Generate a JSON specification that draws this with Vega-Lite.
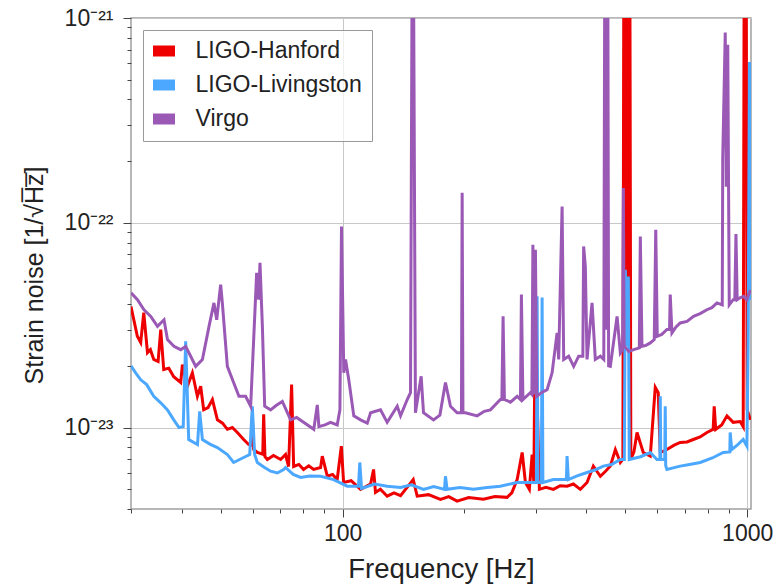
{
"$schema": "https://vega.github.io/schema/vega-lite/v6.json",
"width": 620, "height": 491,
"autosize": {"type": "none"},
"padding": {"left": 131, "top": 18, "right": 22, "bottom": 76},
"background": "white",
"config": {"font": "Liberation Sans", "view": {"stroke": "#a0a0a0", "strokeWidth": 1.5}},
"data": {"values": [
{"d":"LIGO-Hanford","f":30,"h":3.9e-23},{"d":"LIGO-Hanford","f":31.1,"h":2.79e-23},{"d":"LIGO-Hanford","f":31.7,"h":2.6e-23},{"d":"LIGO-Hanford","f":32.26,"h":3.64e-23},{"d":"LIGO-Hanford","f":32.95,"h":2.32e-23},{"d":"LIGO-Hanford","f":33.5,"h":2.4e-23},{"d":"LIGO-Hanford","f":34.15,"h":2.15e-23},{"d":"LIGO-Hanford","f":35.0,"h":2.1e-23},{"d":"LIGO-Hanford","f":35.53,"h":3.01e-23},{"d":"LIGO-Hanford","f":36.14,"h":1.92e-23},{"d":"LIGO-Hanford","f":37.2,"h":1.95e-23},{"d":"LIGO-Hanford","f":38.26,"h":1.77e-23},{"d":"LIGO-Hanford","f":39.81,"h":1.66e-23},{"d":"LIGO-Hanford","f":40.19,"h":2.03e-23},{"d":"LIGO-Hanford","f":41.35,"h":1.59e-23},{"d":"LIGO-Hanford","f":42.54,"h":1.85e-23},{"d":"LIGO-Hanford","f":43.77,"h":1.42e-23},{"d":"LIGO-Hanford","f":44.6,"h":1.59e-23},{"d":"LIGO-Hanford","f":45.37,"h":1.22e-23},{"d":"LIGO-Hanford","f":46.5,"h":1.25e-23},{"d":"LIGO-Hanford","f":47.68,"h":1.37e-23},{"d":"LIGO-Hanford","f":49.05,"h":1.09e-23},{"d":"LIGO-Hanford","f":50.5,"h":1.05e-23},{"d":"LIGO-Hanford","f":51.91,"h":9.8e-24},{"d":"LIGO-Hanford","f":53.4,"h":1.0e-23},{"d":"LIGO-Hanford","f":54.95,"h":9.46e-24},{"d":"LIGO-Hanford","f":56.96,"h":8.74e-24},{"d":"LIGO-Hanford","f":58.6,"h":8.26e-24},{"d":"LIGO-Hanford","f":59.4,"h":8.2e-24},{"d":"LIGO-Hanford","f":59.84,"h":1.14e-23},{"d":"LIGO-Hanford","f":60.3,"h":7.81e-24},{"d":"LIGO-Hanford","f":61.57,"h":7.55e-24},{"d":"LIGO-Hanford","f":63.5,"h":7.4e-24},{"d":"LIGO-Hanford","f":63.83,"h":1.16e-23},{"d":"LIGO-Hanford","f":64.3,"h":7.2e-24},{"d":"LIGO-Hanford","f":65.17,"h":6.98e-24},{"d":"LIGO-Hanford","f":67.5,"h":7.3e-24},{"d":"LIGO-Hanford","f":70.3,"h":6.98e-24},{"d":"LIGO-Hanford","f":72.3,"h":7.38e-24},{"d":"LIGO-Hanford","f":73.55,"h":6.45e-24},{"d":"LIGO-Hanford","f":74.83,"h":1.62e-23},{"d":"LIGO-Hanford","f":75.7,"h":6.45e-24},{"d":"LIGO-Hanford","f":78,"h":6.6e-24},{"d":"LIGO-Hanford","f":80.1,"h":6.24e-24},{"d":"LIGO-Hanford","f":82.5,"h":6.5e-24},{"d":"LIGO-Hanford","f":84.8,"h":6.24e-24},{"d":"LIGO-Hanford","f":88.25,"h":6.38e-24},{"d":"LIGO-Hanford","f":89.1,"h":7.25e-24},{"d":"LIGO-Hanford","f":91.7,"h":5.78e-24},{"d":"LIGO-Hanford","f":94.5,"h":5.9e-24},{"d":"LIGO-Hanford","f":97.0,"h":5.57e-24},{"d":"LIGO-Hanford","f":99.3,"h":8.11e-24},{"d":"LIGO-Hanford","f":100.6,"h":5.39e-24},{"d":"LIGO-Hanford","f":105,"h":5.5e-24},{"d":"LIGO-Hanford","f":110.8,"h":4.99e-24},{"d":"LIGO-Hanford","f":117.3,"h":5.3e-24},{"d":"LIGO-Hanford","f":119.3,"h":6.24e-24},{"d":"LIGO-Hanford","f":120.6,"h":4.82e-24},{"d":"LIGO-Hanford","f":124,"h":5.0e-24},{"d":"LIGO-Hanford","f":128.9,"h":4.62e-24},{"d":"LIGO-Hanford","f":134,"h":4.8e-24},{"d":"LIGO-Hanford","f":139.1,"h":4.65e-24},{"d":"LIGO-Hanford","f":149.5,"h":5.57e-24},{"d":"LIGO-Hanford","f":152.9,"h":4.62e-24},{"d":"LIGO-Hanford","f":163,"h":4.7e-24},{"d":"LIGO-Hanford","f":174.6,"h":4.46e-24},{"d":"LIGO-Hanford","f":183,"h":4.6e-24},{"d":"LIGO-Hanford","f":191.9,"h":4.37e-24},{"d":"LIGO-Hanford","f":205,"h":4.55e-24},{"d":"LIGO-Hanford","f":222.9,"h":4.46e-24},{"d":"LIGO-Hanford","f":238,"h":4.6e-24},{"d":"LIGO-Hanford","f":255.0,"h":4.56e-24},{"d":"LIGO-Hanford","f":262,"h":4.8e-24},{"d":"LIGO-Hanford","f":270.1,"h":5.57e-24},{"d":"LIGO-Hanford","f":277.9,"h":7.55e-24},{"d":"LIGO-Hanford","f":283.1,"h":5.39e-24},{"d":"LIGO-Hanford","f":289.5,"h":4.99e-24},{"d":"LIGO-Hanford","f":294.1,"h":7.38e-24},{"d":"LIGO-Hanford","f":297,"h":5.39e-24},{"d":"LIGO-Hanford","f":299.7,"h":4.54e-23},{"d":"LIGO-Hanford","f":302.6,"h":1.37e-23},{"d":"LIGO-Hanford","f":306.5,"h":4.99e-24},{"d":"LIGO-Hanford","f":318,"h":5.1e-24},{"d":"LIGO-Hanford","f":332.0,"h":4.99e-24},{"d":"LIGO-Hanford","f":345,"h":5.2e-24},{"d":"LIGO-Hanford","f":358.8,"h":5.17e-24},{"d":"LIGO-Hanford","f":372,"h":5.3e-24},{"d":"LIGO-Hanford","f":387.0,"h":4.99e-24},{"d":"LIGO-Hanford","f":402.0,"h":5.39e-24},{"d":"LIGO-Hanford","f":416.7,"h":6.48e-24},{"d":"LIGO-Hanford","f":433.6,"h":5.78e-24},{"d":"LIGO-Hanford","f":446,"h":6.1e-24},{"d":"LIGO-Hanford","f":459.0,"h":6.48e-24},{"d":"LIGO-Hanford","f":472.3,"h":7.81e-24},{"d":"LIGO-Hanford","f":485.9,"h":6.75e-24},{"d":"LIGO-Hanford","f":493,"h":7.0e-24},{"d":"LIGO-Hanford","f":495.6,"h":2e-21},{"d":"LIGO-Hanford","f":498,"h":3e-23},{"d":"LIGO-Hanford","f":500.5,"h":2e-21},{"d":"LIGO-Hanford","f":503,"h":3e-23},{"d":"LIGO-Hanford","f":505.5,"h":2e-21},{"d":"LIGO-Hanford","f":508,"h":3e-23},{"d":"LIGO-Hanford","f":510.5,"h":2e-21},{"d":"LIGO-Hanford","f":512.9,"h":2e-21},{"d":"LIGO-Hanford","f":515.8,"h":7.0e-24},{"d":"LIGO-Hanford","f":525,"h":7.6e-24},{"d":"LIGO-Hanford","f":534.3,"h":9.46e-24},{"d":"LIGO-Hanford","f":553.6,"h":7.55e-24},{"d":"LIGO-Hanford","f":576.1,"h":7.25e-24},{"d":"LIGO-Hanford","f":592.7,"h":1.57e-23},{"d":"LIGO-Hanford","f":602.8,"h":1.48e-23},{"d":"LIGO-Hanford","f":609.8,"h":7.55e-24},{"d":"LIGO-Hanford","f":633.4,"h":7.81e-24},{"d":"LIGO-Hanford","f":660,"h":8.2e-24},{"d":"LIGO-Hanford","f":683.2,"h":8.45e-24},{"d":"LIGO-Hanford","f":710,"h":8.5e-24},{"d":"LIGO-Hanford","f":735.8,"h":8.74e-24},{"d":"LIGO-Hanford","f":765,"h":9.0e-24},{"d":"LIGO-Hanford","f":795.3,"h":9.46e-24},{"d":"LIGO-Hanford","f":824,"h":9.8e-24},{"d":"LIGO-Hanford","f":828.9,"h":1.27e-23},{"d":"LIGO-Hanford","f":836,"h":9.8e-24},{"d":"LIGO-Hanford","f":865,"h":1.03e-23},{"d":"LIGO-Hanford","f":891.3,"h":1.14e-23},{"d":"LIGO-Hanford","f":923.5,"h":1.06e-23},{"d":"LIGO-Hanford","f":961.1,"h":1.07e-23},{"d":"LIGO-Hanford","f":977.7,"h":1.01e-23},{"d":"LIGO-Hanford","f":983.1,"h":2e-21},{"d":"LIGO-Hanford","f":994.3,"h":2e-21},{"d":"LIGO-Hanford","f":1000,"h":1.22e-23},{"d":"LIGO-Hanford","f":1018,"h":1.09e-23},
{"d":"LIGO-Livingston","f":30,"h":2.0e-23},{"d":"LIGO-Livingston","f":30.8,"h":1.85e-23},{"d":"LIGO-Livingston","f":31.71,"h":1.71e-23},{"d":"LIGO-Livingston","f":32.8,"h":1.62e-23},{"d":"LIGO-Livingston","f":34.15,"h":1.42e-23},{"d":"LIGO-Livingston","f":35.53,"h":1.32e-23},{"d":"LIGO-Livingston","f":36.92,"h":1.22e-23},{"d":"LIGO-Livingston","f":38.26,"h":1.09e-23},{"d":"LIGO-Livingston","f":39.43,"h":1.0e-23},{"d":"LIGO-Livingston","f":40.38,"h":1.01e-23},{"d":"LIGO-Livingston","f":40.95,"h":2.64e-23},{"d":"LIGO-Livingston","f":41.66,"h":8.74e-24},{"d":"LIGO-Livingston","f":43.8,"h":8.26e-24},{"d":"LIGO-Livingston","f":44.35,"h":1.2e-23},{"d":"LIGO-Livingston","f":45.04,"h":8.74e-24},{"d":"LIGO-Livingston","f":47,"h":8.3e-24},{"d":"LIGO-Livingston","f":49.05,"h":7.98e-24},{"d":"LIGO-Livingston","f":51.91,"h":7.38e-24},{"d":"LIGO-Livingston","f":53.81,"h":6.75e-24},{"d":"LIGO-Livingston","f":56.96,"h":7.14e-24},{"d":"LIGO-Livingston","f":58.95,"h":7.38e-24},{"d":"LIGO-Livingston","f":59.84,"h":1.27e-23},{"d":"LIGO-Livingston","f":60.63,"h":7.38e-24},{"d":"LIGO-Livingston","f":61.57,"h":6.75e-24},{"d":"LIGO-Livingston","f":64,"h":6.4e-24},{"d":"LIGO-Livingston","f":66.4,"h":6.12e-24},{"d":"LIGO-Livingston","f":69,"h":6.0e-24},{"d":"LIGO-Livingston","f":71.5,"h":6.24e-24},{"d":"LIGO-Livingston","f":72.3,"h":6.38e-24},{"d":"LIGO-Livingston","f":75.5,"h":5.9e-24},{"d":"LIGO-Livingston","f":78.77,"h":5.7e-24},{"d":"LIGO-Livingston","f":83,"h":5.8e-24},{"d":"LIGO-Livingston","f":88.25,"h":5.78e-24},{"d":"LIGO-Livingston","f":95.0,"h":5.57e-24},{"d":"LIGO-Livingston","f":102.7,"h":5.17e-24},{"d":"LIGO-Livingston","f":109.5,"h":5.17e-24},{"d":"LIGO-Livingston","f":110.3,"h":6.75e-24},{"d":"LIGO-Livingston","f":111.4,"h":5.04e-24},{"d":"LIGO-Livingston","f":120,"h":5.3e-24},{"d":"LIGO-Livingston","f":128.9,"h":5.17e-24},{"d":"LIGO-Livingston","f":139.1,"h":5.1e-24},{"d":"LIGO-Livingston","f":148,"h":5.25e-24},{"d":"LIGO-Livingston","f":158.5,"h":4.99e-24},{"d":"LIGO-Livingston","f":168,"h":5.15e-24},{"d":"LIGO-Livingston","f":178.6,"h":4.99e-24},{"d":"LIGO-Livingston","f":179.6,"h":5.78e-24},{"d":"LIGO-Livingston","f":181.3,"h":4.99e-24},{"d":"LIGO-Livingston","f":195,"h":5.1e-24},{"d":"LIGO-Livingston","f":210.6,"h":4.99e-24},{"d":"LIGO-Livingston","f":228,"h":5.1e-24},{"d":"LIGO-Livingston","f":245.5,"h":5.17e-24},{"d":"LIGO-Livingston","f":270.1,"h":5.39e-24},{"d":"LIGO-Livingston","f":291.2,"h":5.39e-24},{"d":"LIGO-Livingston","f":301.3,"h":5.39e-24},{"d":"LIGO-Livingston","f":302.6,"h":4.37e-23},{"d":"LIGO-Livingston","f":303.9,"h":5.39e-24},{"d":"LIGO-Livingston","f":310.0,"h":5.39e-24},{"d":"LIGO-Livingston","f":311.3,"h":4.31e-23},{"d":"LIGO-Livingston","f":312.7,"h":5.39e-24},{"d":"LIGO-Livingston","f":332.0,"h":5.57e-24},{"d":"LIGO-Livingston","f":357.4,"h":5.57e-24},{"d":"LIGO-Livingston","f":358.8,"h":7.25e-24},{"d":"LIGO-Livingston","f":361.5,"h":5.57e-24},{"d":"LIGO-Livingston","f":380,"h":5.8e-24},{"d":"LIGO-Livingston","f":402.0,"h":6.03e-24},{"d":"LIGO-Livingston","f":420,"h":6.2e-24},{"d":"LIGO-Livingston","f":441.0,"h":6.48e-24},{"d":"LIGO-Livingston","f":462,"h":6.6e-24},{"d":"LIGO-Livingston","f":485.9,"h":6.98e-24},{"d":"LIGO-Livingston","f":497.0,"h":6.98e-24},{"d":"LIGO-Livingston","f":499.9,"h":5.9e-23},{"d":"LIGO-Livingston","f":504,"h":2.5e-23},{"d":"LIGO-Livingston","f":508.5,"h":5.47e-23},{"d":"LIGO-Livingston","f":511.2,"h":6.98e-24},{"d":"LIGO-Livingston","f":545,"h":7.2e-24},{"d":"LIGO-Livingston","f":576.1,"h":7.55e-24},{"d":"LIGO-Livingston","f":598.4,"h":6.98e-24},{"d":"LIGO-Livingston","f":608.5,"h":6.98e-24},{"d":"LIGO-Livingston","f":609.8,"h":1.42e-23},{"d":"LIGO-Livingston","f":611.5,"h":6.98e-24},{"d":"LIGO-Livingston","f":625.5,"h":6.98e-24},{"d":"LIGO-Livingston","f":627.3,"h":1.27e-23},{"d":"LIGO-Livingston","f":629,"h":6.5e-24},{"d":"LIGO-Livingston","f":633.4,"h":6.24e-24},{"d":"LIGO-Livingston","f":683.2,"h":6.48e-24},{"d":"LIGO-Livingston","f":720,"h":6.6e-24},{"d":"LIGO-Livingston","f":765.6,"h":6.75e-24},{"d":"LIGO-Livingston","f":820,"h":7.1e-24},{"d":"LIGO-Livingston","f":872.6,"h":7.55e-24},{"d":"LIGO-Livingston","f":906,"h":7.6e-24},{"d":"LIGO-Livingston","f":907.8,"h":9.46e-24},{"d":"LIGO-Livingston","f":915.7,"h":7.81e-24},{"d":"LIGO-Livingston","f":945,"h":8.2e-24},{"d":"LIGO-Livingston","f":977.7,"h":8.74e-24},{"d":"LIGO-Livingston","f":998.4,"h":8.11e-24},{"d":"LIGO-Livingston","f":1005.7,"h":2.69e-23},{"d":"LIGO-Livingston","f":1013.2,"h":6.1e-22},{"d":"LIGO-Livingston","f":1020,"h":4.2e-23},
{"d":"Virgo","f":30,"h":4.55e-23},{"d":"Virgo","f":31.12,"h":4.21e-23},{"d":"Virgo","f":32.3,"h":3.76e-23},{"d":"Virgo","f":33.57,"h":3.49e-23},{"d":"Virgo","f":34.88,"h":3.12e-23},{"d":"Virgo","f":36.2,"h":3.36e-23},{"d":"Virgo","f":36.92,"h":2.69e-23},{"d":"Virgo","f":38.3,"h":2.49e-23},{"d":"Virgo","f":39.81,"h":2.4e-23},{"d":"Virgo","f":40.95,"h":2.49e-23},{"d":"Virgo","f":42.13,"h":2.23e-23},{"d":"Virgo","f":43.35,"h":1.99e-23},{"d":"Virgo","f":45.04,"h":2.15e-23},{"d":"Virgo","f":46.77,"h":3.12e-23},{"d":"Virgo","f":48.1,"h":4.06e-23},{"d":"Virgo","f":48.86,"h":3.36e-23},{"d":"Virgo","f":49.97,"h":4.99e-23},{"d":"Virgo","f":50.45,"h":4.06e-23},{"d":"Virgo","f":51.91,"h":1.99e-23},{"d":"Virgo","f":53.85,"h":1.65e-23},{"d":"Virgo","f":55.45,"h":1.42e-23},{"d":"Virgo","f":57.6,"h":1.42e-23},{"d":"Virgo","f":59.27,"h":1.27e-23},{"d":"Virgo","f":60.4,"h":2.9e-23},{"d":"Virgo","f":61.33,"h":5.69e-23},{"d":"Virgo","f":62.03,"h":4.21e-23},{"d":"Virgo","f":62.5,"h":6.38e-23},{"d":"Virgo","f":63.36,"h":3.12e-23},{"d":"Virgo","f":64.2,"h":1.27e-23},{"d":"Virgo","f":66.4,"h":1.22e-23},{"d":"Virgo","f":68.5,"h":1.28e-23},{"d":"Virgo","f":70.98,"h":1.34e-23},{"d":"Virgo","f":74.4,"h":1.09e-23},{"d":"Virgo","f":77,"h":1.12e-23},{"d":"Virgo","f":80.1,"h":1.06e-23},{"d":"Virgo","f":84.9,"h":9.8e-24},{"d":"Virgo","f":86.6,"h":1.29e-23},{"d":"Virgo","f":87.4,"h":1.01e-23},{"d":"Virgo","f":90.5,"h":1.03e-23},{"d":"Virgo","f":93.4,"h":1.06e-23},{"d":"Virgo","f":97.0,"h":1.03e-23},{"d":"Virgo","f":98.5,"h":1.22e-23},{"d":"Virgo","f":99.4,"h":9.59e-23},{"d":"Virgo","f":100.7,"h":1.85e-23},{"d":"Virgo","f":101.7,"h":2.15e-23},{"d":"Virgo","f":103.6,"h":1.71e-23},{"d":"Virgo","f":106.6,"h":1.14e-23},{"d":"Virgo","f":110.8,"h":1.09e-23},{"d":"Virgo","f":115.1,"h":1.05e-23},{"d":"Virgo","f":117.3,"h":1.18e-23},{"d":"Virgo","f":124.1,"h":1.22e-23},{"d":"Virgo","f":128.9,"h":1.06e-23},{"d":"Virgo","f":136.5,"h":1.27e-23},{"d":"Virgo","f":139.1,"h":1.14e-23},{"d":"Virgo","f":144.5,"h":1.37e-23},{"d":"Virgo","f":147.2,"h":1.48e-23},{"d":"Virgo","f":148.6,"h":2e-21},{"d":"Virgo","f":149.7,"h":2e-21},{"d":"Virgo","f":151.4,"h":1.18e-23},{"d":"Virgo","f":156.4,"h":1.78e-23},{"d":"Virgo","f":158.5,"h":1.18e-23},{"d":"Virgo","f":167.8,"h":1.09e-23},{"d":"Virgo","f":174,"h":1.15e-23},{"d":"Virgo","f":179.6,"h":1.66e-23},{"d":"Virgo","f":184.8,"h":1.27e-23},{"d":"Virgo","f":191.9,"h":1.18e-23},{"d":"Virgo","f":196.7,"h":1.18e-23},{"d":"Virgo","f":197.5,"h":1.4e-22},{"d":"Virgo","f":198.4,"h":1.18e-23},{"d":"Virgo","f":201.2,"h":1.18e-23},{"d":"Virgo","f":215.1,"h":1.14e-23},{"d":"Virgo","f":224,"h":1.2e-23},{"d":"Virgo","f":232.0,"h":1.22e-23},{"d":"Virgo","f":245.5,"h":1.37e-23},{"d":"Virgo","f":247.6,"h":1.37e-23},{"d":"Virgo","f":249.3,"h":3.49e-23},{"d":"Virgo","f":251.2,"h":1.37e-23},{"d":"Virgo","f":260,"h":1.33e-23},{"d":"Virgo","f":270.1,"h":1.42e-23},{"d":"Virgo","f":275.2,"h":1.37e-23},{"d":"Virgo","f":276.7,"h":4.46e-23},{"d":"Virgo","f":279.1,"h":1.37e-23},{"d":"Virgo","f":291.2,"h":1.48e-23},{"d":"Virgo","f":293.7,"h":1.45e-23},{"d":"Virgo","f":295.4,"h":7.8e-23},{"d":"Virgo","f":297.4,"h":1.45e-23},{"d":"Virgo","f":299.7,"h":7.38e-23},{"d":"Virgo","f":301.9,"h":1.42e-23},{"d":"Virgo","f":310,"h":1.48e-23},{"d":"Virgo","f":320.3,"h":1.53e-23},{"d":"Virgo","f":329.5,"h":1.85e-23},{"d":"Virgo","f":339.0,"h":2.9e-23},{"d":"Virgo","f":342.1,"h":2.15e-23},{"d":"Virgo","f":348.8,"h":1.2e-22},{"d":"Virgo","f":352.0,"h":2.15e-23},{"d":"Virgo","f":362.1,"h":2.23e-23},{"d":"Virgo","f":372.6,"h":1.99e-23},{"d":"Virgo","f":383.3,"h":2.23e-23},{"d":"Virgo","f":392.5,"h":2.23e-23},{"d":"Virgo","f":394.3,"h":7.66e-23},{"d":"Virgo","f":398.1,"h":6.12e-23},{"d":"Virgo","f":402.0,"h":2.15e-23},{"d":"Virgo","f":413.6,"h":4.06e-23},{"d":"Virgo","f":421.4,"h":2.15e-23},{"d":"Virgo","f":433.6,"h":2.23e-23},{"d":"Virgo","f":442.2,"h":2.15e-23},{"d":"Virgo","f":444.7,"h":2e-21},{"d":"Virgo","f":446.5,"h":3e-23},{"d":"Virgo","f":448.5,"h":2e-21},{"d":"Virgo","f":450.5,"h":3e-23},{"d":"Virgo","f":452.4,"h":2e-21},{"d":"Virgo","f":454.5,"h":2.0e-23},{"d":"Virgo","f":459.0,"h":1.99e-23},{"d":"Virgo","f":476.9,"h":3.49e-23},{"d":"Virgo","f":485.9,"h":2.31e-23},{"d":"Virgo","f":492.1,"h":2.4e-23},{"d":"Virgo","f":494.3,"h":1.48e-22},{"d":"Virgo","f":496.5,"h":2.5e-23},{"d":"Virgo","f":510,"h":2.35e-23},{"d":"Virgo","f":524.1,"h":2.4e-23},{"d":"Virgo","f":541.3,"h":2.45e-23},{"d":"Virgo","f":544.4,"h":8.57e-23},{"d":"Virgo","f":549.5,"h":2.49e-23},{"d":"Virgo","f":562,"h":2.52e-23},{"d":"Virgo","f":576.1,"h":2.59e-23},{"d":"Virgo","f":589.3,"h":2.69e-23},{"d":"Virgo","f":594.4,"h":9.25e-23},{"d":"Virgo","f":599.5,"h":2.79e-23},{"d":"Virgo","f":615,"h":2.85e-23},{"d":"Virgo","f":633.4,"h":3.01e-23},{"d":"Virgo","f":642.9,"h":3.01e-23},{"d":"Virgo","f":645.4,"h":4.46e-23},{"d":"Virgo","f":651.7,"h":2.9e-23},{"d":"Virgo","f":667,"h":3.1e-23},{"d":"Virgo","f":683.2,"h":3.24e-23},{"d":"Virgo","f":710,"h":3.3e-23},{"d":"Virgo","f":737.0,"h":3.49e-23},{"d":"Virgo","f":765,"h":3.6e-23},{"d":"Virgo","f":795.3,"h":3.76e-23},{"d":"Virgo","f":818,"h":3.85e-23},{"d":"Virgo","f":842.0,"h":4.06e-23},{"d":"Virgo","f":867.8,"h":3.97e-23},{"d":"Virgo","f":870.2,"h":2.08e-22},{"d":"Virgo","f":882.7,"h":8.5e-22},{"d":"Virgo","f":888,"h":1.5e-22},{"d":"Virgo","f":895.3,"h":7.4e-22},{"d":"Virgo","f":903.0,"h":3.97e-23},{"d":"Virgo","f":923.5,"h":4.21e-23},{"d":"Virgo","f":932,"h":4.21e-23},{"d":"Virgo","f":938.2,"h":8.8e-23},{"d":"Virgo","f":944.7,"h":4.21e-23},{"d":"Virgo","f":960,"h":4.3e-23},{"d":"Virgo","f":979.3,"h":4.37e-23},{"d":"Virgo","f":998.4,"h":4.21e-23},{"d":"Virgo","f":1018,"h":4.7e-23}
]},
"mark": {"type": "line", "strokeWidth": 3, "clip": true},
"encoding": {
  "x": {"field": "f", "type": "quantitative",
    "scale": {"type": "log", "domain": [30, 1022], "nice": false},
    "axis": {"title": "Frequency [Hz]", "values": [30,40,50,60,70,80,90,100,200,300,400,500,600,700,800,900,1000],
      "labelExpr": "datum.value == 100 ? '100' : datum.value == 1000 ? '1000' : ''",
      "tickSize": {"condition": {"test": "datum.value == 100 || datum.value == 1000", "value": 8}, "value": 4},
      "grid": true, "gridColor": "#c8c8c8", "gridWidth": 1,
      "gridOpacity": {"condition": {"test": "datum.value == 100 || datum.value == 1000", "value": 1}, "value": 0},
      "domain": false, "tickColor": "#444", "tickWidth": 1,
      "labelFontSize": 23, "labelColor": "#222", "labelPadding": 5, "labelFlush": false, "labelOverlap": false, "labelBound": false,
      "titleFontSize": 27.5, "titleFontWeight": "normal", "titleColor": "#222", "titleBaseline": "alphabetic", "titleY": 68}},
  "y": {"field": "h", "type": "quantitative",
    "scale": {"type": "log", "domain": [4e-24, 1e-21], "nice": false},
    "axis": {"title": "Strain noise [1/√H̅z̅]",
      "values": [4e-24,5e-24,6e-24,7e-24,8e-24,9e-24,1e-23,2e-23,3e-23,4e-23,5e-23,6e-23,7e-23,8e-23,9e-23,1e-22,2e-22,3e-22,4e-22,5e-22,6e-22,7e-22,8e-22,9e-22,1e-21],
      "labelExpr": "datum.value == 1e-21 ? '10⁻²¹' : datum.value == 1e-22 ? '10⁻²²' : datum.value == 1e-23 ? '10⁻²³' : ''",
      "tickSize": {"condition": {"test": "datum.value == 1e-21 || datum.value == 1e-22 || datum.value == 1e-23", "value": 8}, "value": 4},
      "grid": true, "gridColor": "#c8c8c8", "gridWidth": 1,
      "gridOpacity": {"condition": {"test": "datum.value == 1e-21 || datum.value == 1e-22 || datum.value == 1e-23", "value": 1}, "value": 0},
      "domain": false, "tickColor": "#444", "tickWidth": 1,
      "labelFontSize": 23, "labelColor": "#222", "labelPadding": 10, "labelFlush": false, "labelOverlap": false, "labelBound": false,
      "titleFontSize": 25, "titleFontWeight": "normal", "titleColor": "#222", "titleAngle": -90, "titleAlign": "center", "titleBaseline": "alphabetic", "titleX": -89, "titleY": 257}},
  "color": {"field": "d", "type": "nominal",
    "scale": {"domain": ["LIGO-Hanford", "LIGO-Livingston", "Virgo"], "range": ["#ee0000", "#4ca8ff", "#9b59b6"]},
    "legend": {"title": null, "orient": "none", "legendX": 12, "legendY": 12, "direction": "vertical",
      "labelFontSize": 23, "labelColor": "#222", "labelLimit": 400, "symbolType": "M-1,-0.5H1V0.5H-1Z", "symbolSize": 484, "symbolStrokeWidth": 0,
      "labelOffset": 20, "rowPadding": 10, "padding": 9.5, "strokeColor": "#999999", "fillColor": "rgba(255,255,255,0.7)", "symbolOpacity": 1,
      "encode": {"symbols": {"update": {"fill": {"scale": "color", "field": "value"}, "strokeWidth": {"value": 0}}}}}}
}
}
